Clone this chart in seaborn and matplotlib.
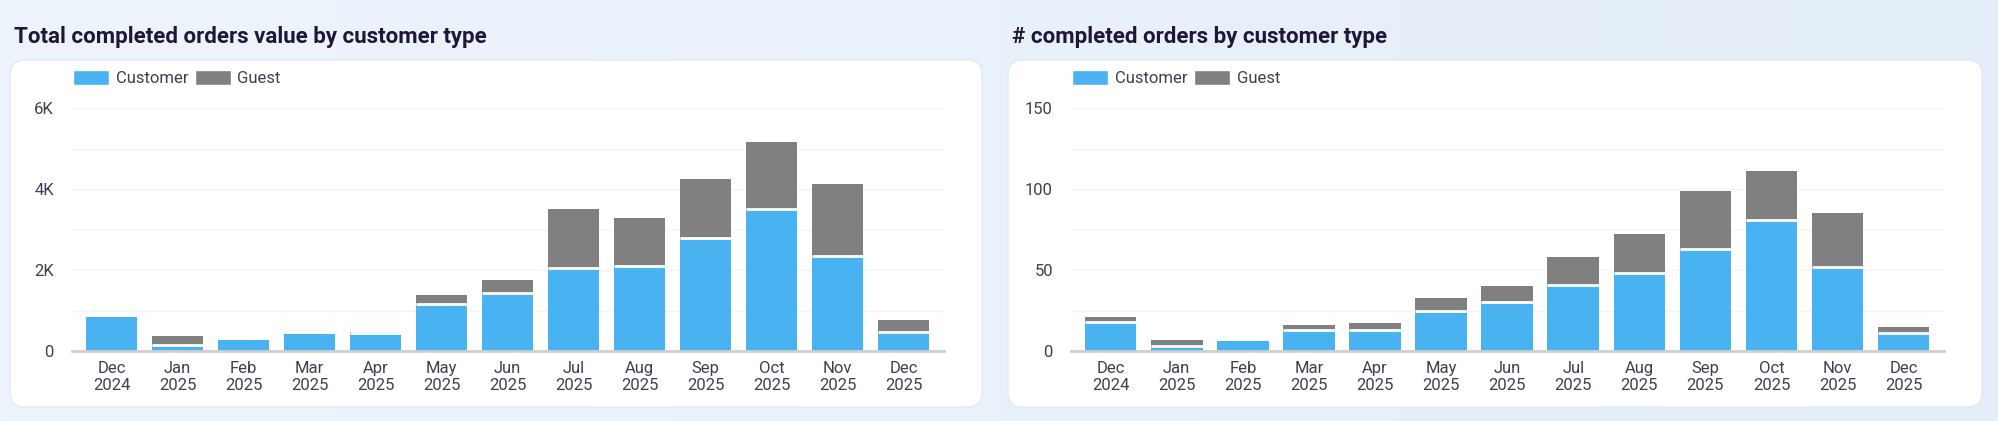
import numpy as np
import pandas as pd
import matplotlib.pyplot as plt
import seaborn as sns
from matplotlib.patches import FancyBboxPatch, Patch
from matplotlib.colors import LinearSegmentedColormap

# dados
meses = ['Dec\n2024', 'Jan\n2025', 'Feb\n2025', 'Mar\n2025', 'Apr\n2025', 'May\n2025', 'Jun\n2025',
         'Jul\n2025', 'Aug\n2025', 'Sep\n2025', 'Oct\n2025', 'Nov\n2025', 'Dec\n2025']
valor_customer = [840, 140, 280, 410, 445, 1150, 1420, 2040, 2110, 2800, 3500, 2340, 470]
valor_guest = [0, 220, 0, 0, 30, 240, 340, 1460, 1170, 1440, 1660, 1790, 290]
pedidos_customer = [18, 3, 6, 13, 13, 25, 30, 41, 48, 63, 81, 52, 11]
pedidos_guest = [3, 4, 0, 3, 4, 8, 10, 17, 24, 36, 30, 33, 4]

titulos = ['Total completed orders value by customer type', '# completed orders by customer type']

AZUL = '#49B2F0'
CINZA = '#808080'
W, H = 1999, 421

sns.set_theme(style='white')
plt.rcParams['font.family'] = ['Roboto', 'DejaVu Sans']

fig = plt.figure(figsize=(W / 100, H / 100), dpi=100)

# fundo com degradê e cartões brancos
bg = fig.add_axes([0, 0, 1, 1])
bg.set_xlim(0, W)
bg.set_ylim(0, H)
bg.axis('off')
grad = np.linspace(0, 1, 256).reshape(1, -1)
cmap_bg = LinearSegmentedColormap.from_list('bg', ['#EEF4FC', '#E4EEF9'])
bg.imshow(grad, extent=[0, W, 0, H], aspect='auto', cmap=cmap_bg, zorder=0)
for x0, x1 in [(10, 982), (1008, 1982)]:
    card = FancyBboxPatch((x0, H - 407), x1 - x0, 347,
                          boxstyle='round,pad=0,rounding_size=15',
                          facecolor='white', edgecolor='#E3EAF3', linewidth=1, zorder=1)
    bg.add_patch(card)


def painel(x_ax, largura, x_titulo, titulo, customer, guest, ymax, passo, fmt):
    ax = fig.add_axes([x_ax / W, 70 / H, largura / W, 243 / H])
    df = pd.DataFrame({'mes': meses, 'customer': customer,
                       'total': np.array(customer) + np.array(guest)})
    sns.barplot(data=df, x='mes', y='total', order=meses, color=CINZA, width=0.78,
                errorbar=None, linewidth=0, saturation=1, ax=ax)
    sns.barplot(data=df, x='mes', y='customer', order=meses, color=AZUL, width=0.78,
                errorbar=None, linewidth=0, saturation=1, ax=ax)
    # separador branco entre as pilhas
    for i, (c, g) in enumerate(zip(customer, guest)):
        if g > 0:
            ax.hlines(c, i - 0.39, i + 0.39, color='white', linewidth=2, zorder=3)

    ax.set_xlim(-0.6, 12.61)
    ax.set_ylim(0, ymax)
    ticks = np.arange(0, ymax + 1, passo)
    ax.set_yticks(ticks)
    ax.set_yticklabels([fmt(v) if k % 2 == 0 else '' for k, v in enumerate(ticks)])
    ax.grid(True, axis='y', color='#F3F3F3', linewidth=1)
    ax.set_axisbelow(True)
    ax.set_xlabel('')
    ax.set_ylabel('')
    for s in ['top', 'right', 'left']:
        ax.spines[s].set_visible(False)
    ax.spines['bottom'].set_color('#CFCFCF')
    ax.spines['bottom'].set_linewidth(2)
    ax.tick_params(axis='both', length=0, labelsize=12, colors='#3F3F52')
    ax.tick_params(axis='y', pad=13)
    ax.tick_params(axis='x', pad=7)
    ax.set_facecolor('none')

    fig.text(x_titulo / W, 1 - 37 / H, titulo, fontsize=16, fontweight='bold',
             color='#1F1638', va='center', ha='left')

    handles = [Patch(facecolor=AZUL, label='Customer'), Patch(facecolor=CINZA, label='Guest')]
    leg = ax.legend(handles=handles, loc='upper left', ncol=2, frameon=False,
                    bbox_to_anchor=((x_ax + 1) / W, 1 - 70 / H), bbox_transform=fig.transFigure,
                    borderpad=0, borderaxespad=0, handlelength=2.16, handleheight=1.0,
                    handletextpad=0.4, columnspacing=0.4, fontsize=12)
    for t in leg.get_texts():
        t.set_color('#3F3F52')
    return ax


painel(72, 872, 14, titulos[0], valor_customer, valor_guest, 6000, 1000,
       lambda v: '0' if v == 0 else f'{int(v / 1000)}K')
painel(1071, 873, 1012, titulos[1], pedidos_customer, pedidos_guest, 150, 25,
       lambda v: f'{int(v)}')

fig.savefig('out.png', dpi=100)
